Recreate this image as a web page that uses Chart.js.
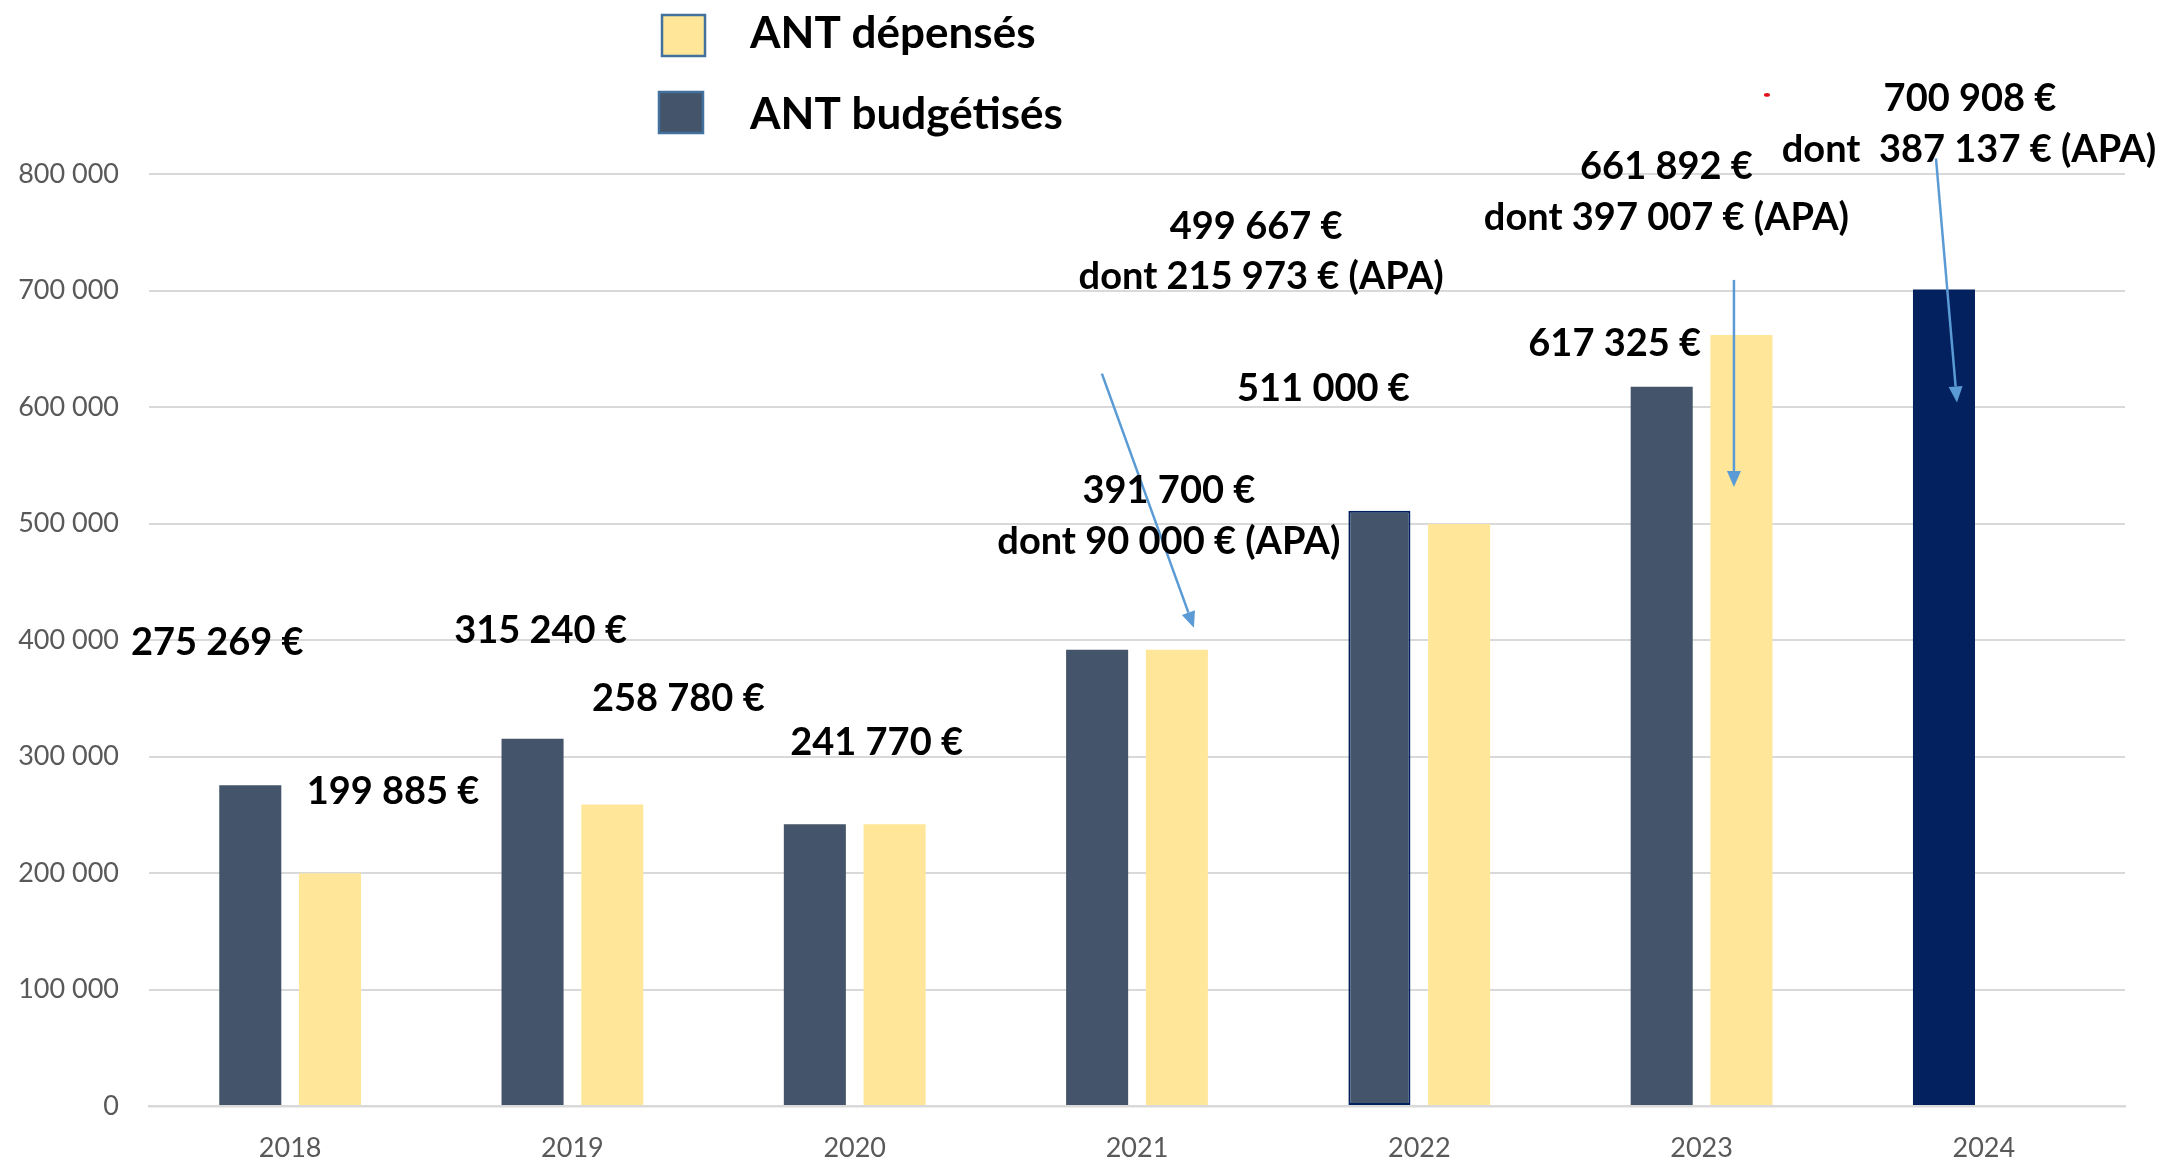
<!DOCTYPE html>
<html lang="fr">
<head>
<meta charset="utf-8">
<title>ANT budgétisés et dépensés</title>
<script src="https://cdn.jsdelivr.net/npm/chart.js@4/dist/chart.umd.min.js"></script>
<style>
  html, body { margin: 0; padding: 0; background: #ffffff; }
  #wrap { width: 2162px; height: 1162px; position: relative; }
</style>
</head>
<body>
<div id="wrap"><canvas id="chart"></canvas></div>
<script>
// ---- Data -------------------------------------------------------------
const years = ['2018', '2019', '2020', '2021', '2022', '2023', '2024'];
const budgeted = [275269, 315240, 241770, 391700, 511000, 617325, 700908];
const spent = [199885, 258780, 241770, 391700, 499667, 661892, null];
// share of each amount that is APA (per year, for the annotated bar)
const apaShare = [null, null, null, 90000, 215973, 397007, 387137];
const yTicks = [0, 100000, 200000, 300000, 400000, 500000, 600000, 700000, 800000];

// ---- Look -------------------------------------------------------------
const COL_BUDGET = '#44546A';
const COL_BUDGET_2024 = '#03215F';
const COL_SPENT = '#FFE699';
const COL_ARROW = '#5B9BD5';
const COL_GRID = '#D9D9D9';
const COL_TICK = '#595959';
const FONT = 'Lato, "Open Sans", sans-serif';

const grouped = n => String(n).replace(/\B(?=(\d{3})+(?!\d))/g, ' ');
const euros = n => grouped(n) + ' €';

// Value callouts: anchored on a bar (dataset, index), offset in px from its top centre.
const callouts = [
  { ds: 0, i: 0, lines: [{ dx: -33, dy: -144 }] },
  { ds: 1, i: 0, lines: [{ dx: 63, dy: -83 }] },
  { ds: 0, i: 1, lines: [{ dx: 8, dy: -109 }] },
  { ds: 1, i: 1, lines: [{ dx: 66, dy: -107 }] },
  { ds: 1, i: 2, lines: [{ dx: -18, dy: -83 }] },
  { ds: 1, i: 3, apa: 'dont ', lines: [{ dx: -8, dy: -160 }, { dx: -8, dy: -109 }] },
  { ds: 0, i: 4, lines: [{ dx: -56, dy: -123 }] },
  { ds: 1, i: 4, apa: 'dont ', lines: [{ dx: -203, dy: -299 }, { dx: -198, dy: -249 }] },
  { ds: 0, i: 5, lines: [{ dx: -47, dy: -44 }] },
  { ds: 1, i: 5, apa: 'dont ', lines: [{ dx: -75, dy: -170 }, { dx: -75, dy: -119 }] },
  { ds: 0, i: 6, apa: 'dont  ', lines: [{ dx: 26, dy: -192 }, { dx: 25, dy: -141 }] }
];

// Pointer arrows, same anchoring scheme.
const arrows = [
  { ds: 1, i: 3, from: [-75, -276], to: [17, -22] },
  { ds: 1, i: 5, from: [-7.5, -55], to: [-7.5, 152] },
  { ds: 0, i: 6, from: [-8, -131], to: [13, 113] }
];

// ---- Plugins ----------------------------------------------------------
const annotationsPlugin = {
  id: 'callouts',
  afterDatasetsDraw(chart) {
    const ctx = chart.ctx;
    const anchor = (ds, i) => chart.getDatasetMeta(ds).data[i];

    // arrows
    ctx.save();
    ctx.strokeStyle = COL_ARROW;
    ctx.fillStyle = COL_ARROW;
    ctx.lineWidth = 2.5;
    arrows.forEach(a => {
      const bar = anchor(a.ds, a.i);
      const x1 = bar.x + a.from[0], y1 = bar.y + a.from[1];
      const x2 = bar.x + a.to[0], y2 = bar.y + a.to[1];
      const ang = Math.atan2(y2 - y1, x2 - x1);
      const head = 16, half = 7;
      const bx = x2 - head * Math.cos(ang), by = y2 - head * Math.sin(ang);
      ctx.beginPath();
      ctx.moveTo(x1, y1);
      ctx.lineTo(bx, by);
      ctx.stroke();
      ctx.beginPath();
      ctx.moveTo(x2, y2);
      ctx.lineTo(bx + half * Math.sin(ang), by - half * Math.cos(ang));
      ctx.lineTo(bx - half * Math.sin(ang), by + half * Math.cos(ang));
      ctx.closePath();
      ctx.fill();
    });
    ctx.restore();

    // value labels
    ctx.save();
    ctx.fillStyle = '#000000';
    ctx.font = 'bold 38px ' + FONT;
    ctx.textAlign = 'center';
    ctx.textBaseline = 'alphabetic';
    const capHalf = 38 * 0.7165 / 2;
    callouts.forEach(c => {
      const bar = anchor(c.ds, c.i);
      const value = chart.data.datasets[c.ds].data[c.i];
      const texts = [euros(value)];
      if (c.apa) texts.push(c.apa + euros(apaShare[c.i]) + ' (APA)');
      texts.forEach((t, k) => {
        const p = c.lines[k];
        ctx.fillText(t, bar.x + p.dx, bar.y + p.dy + capHalf);
      });
    });
    // small red stroke above the 2023 callout
    const ref = anchor(1, 5);
    ctx.fillStyle = '#E0101A';
    ctx.beginPath();
    ctx.ellipse(ref.x + 25.5, ref.y - 240, 3, 1.8, 0, 0, Math.PI * 2);
    ctx.fill();
    ctx.restore();
  },
  afterDraw(chart) {
    // legend: spent first, then budgeted, stacked
    const ctx = chart.ctx;
    const order = [1, 0];
    const boxes = [
      { x: 662, y: 15, w: 43, h: 41, ty: 32 },
      { x: 659, y: 92, w: 44, h: 41, ty: 113 }
    ];
    const size = 44;
    ctx.save();
    order.forEach((ds, k) => {
      const b = boxes[k];
      const d = chart.data.datasets[ds];
      ctx.fillStyle = d.legendColor;
      ctx.fillRect(b.x, b.y, b.w, b.h);
      ctx.strokeStyle = '#41719C';
      ctx.lineWidth = 2.5;
      ctx.strokeRect(b.x, b.y, b.w, b.h);
      ctx.fillStyle = '#000000';
      ctx.font = 'bold ' + size + 'px ' + FONT;
      ctx.textAlign = 'left';
      ctx.textBaseline = 'alphabetic';
      ctx.fillText(d.label, 750, b.ty + size * 0.7165 / 2);
    });
    ctx.restore();
  }
};

// ---- Chart ------------------------------------------------------------
function build() {
  const ctx = document.getElementById('chart');
  new Chart(ctx, {
    type: 'bar',
    data: {
      labels: years,
      datasets: [
        {
          label: 'ANT budgétisés',
          data: budgeted,
          legendColor: COL_BUDGET,
          backgroundColor: years.map(y => y === '2024' ? COL_BUDGET_2024 : COL_BUDGET),
          borderColor: '#002060',
          borderWidth: years.map(y => y === '2022' ? 2 : 0),
          borderSkipped: false
        },
        {
          label: 'ANT dépensés',
          data: spent,
          legendColor: COL_SPENT,
          backgroundColor: COL_SPENT,
          borderWidth: 0
        }
      ]
    },
    options: {
      responsive: true,
      maintainAspectRatio: false,
      animation: false,
      events: [],
      categoryPercentage: 0.565,
      barPercentage: 0.778,
      layout: { padding: { top: 174, right: 37, left: 0, bottom: 0 } },
      plugins: {
        legend: { display: false },
        tooltip: { enabled: false },
        title: { display: false }
      },
      scales: {
        x: {
          grid: { display: false },
          border: { display: true, color: COL_GRID, width: 2.5 },
          ticks: { color: COL_TICK, font: { family: FONT, size: 27 }, padding: 18 },
          afterFit: s => { s.height = 56; }
        },
        y: {
          min: yTicks[0],
          max: yTicks[yTicks.length - 1],
          afterBuildTicks: s => { s.ticks = yTicks.map(v => ({ value: v })); },
          grid: { color: COL_GRID, lineWidth: 2, drawTicks: false },
          border: { display: false },
          ticks: {
            color: COL_TICK,
            font: { family: FONT, size: 27 },
            padding: 30,
            callback: v => grouped(v)
          },
          afterFit: s => { s.width = 149; }
        }
      }
    },
    plugins: [annotationsPlugin]
  });
}

Promise.all([
  document.fonts.load('bold 38px Lato'),
  document.fonts.load('27px Lato')
]).then(build, build);
</script>
</body>
</html>
